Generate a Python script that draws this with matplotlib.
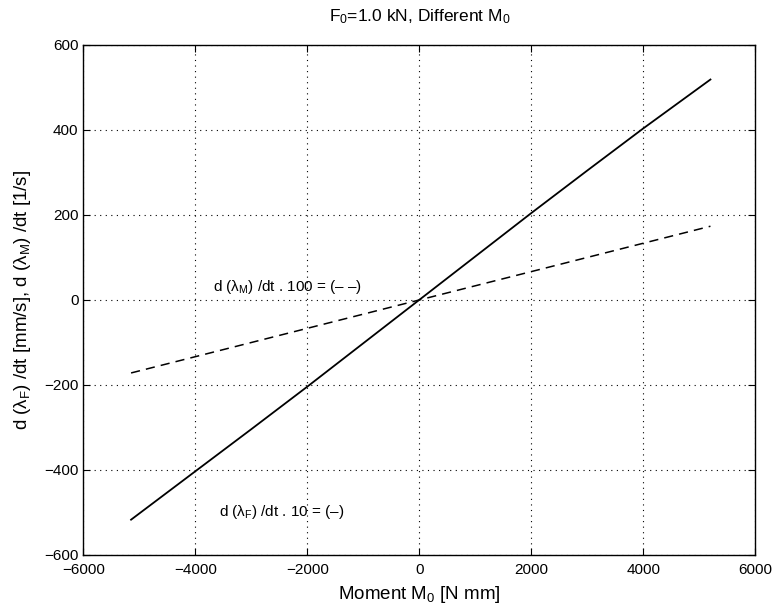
import matplotlib
matplotlib.use("Agg")
import matplotlib.pyplot as plt

plt.rcParams['font.family'] = ['Liberation Sans', 'DejaVu Sans']
plt.rcParams['mathtext.fontset'] = 'custom'
plt.rcParams['mathtext.rm'] = 'Liberation Sans'
plt.rcParams['mathtext.it'] = 'Liberation Sans'

# Moment M0 [Nmm]
moment_f = [-5150, -4000, -3000, -2000, -1000, 0, 1000, 2000, 3000, 4000, 5200]
# d(lambda_F)/dt * 10
rate_f = [-517, -403, -304, -204, -102, 0, 102, 204, 304, 403, 518]

moment_m = [-5150, 5200]
# d(lambda_M)/dt * 100
rate_m = [-172, 173]

x_ticks = [-6000, -4000, -2000, 0, 2000, 4000, 6000]
y_ticks = [-600, -400, -200, 0, 200, 400, 600]

fig = plt.figure(figsize=(7.73, 6.09), dpi=100)
ax = fig.add_axes([0.108, 0.0887, 0.869, 0.838])

ax.plot(moment_f, rate_f, color='black', lw=1.3, ls='-')
ax.plot(moment_m, rate_m, color='black', lw=1.1, ls=(0, (6, 4)))

ax.set_xlim(-6000, 6000)
ax.set_ylim(-600, 600)
ax.set_xticks(x_ticks)
ax.set_yticks(y_ticks)
ax.grid(True, color='black', ls=(0, (1, 4)), lw=0.8)
ax.tick_params(direction='in', top=True, right=True, labelsize=11, length=5)
ax.tick_params(axis='x', pad=6)
for s in ax.spines.values():
    s.set_linewidth(1.0)

ax.text(-3690, 30, r'd ($\lambda_{\rm M}$) /dt . 100 = (– –)', fontsize=11, va='center', ha='left')
ax.text(-3585, -499, r'd ($\lambda_{\rm F}$) /dt . 10 = (–)', fontsize=11, va='center', ha='left')

ax.set_title(r'F$_0$=1.0 kN, Different M$_0$', fontsize=12.5, pad=17)
ax.set_xlabel(r'Moment M$_0$ [N mm]', fontsize=13.5, labelpad=5)
ax.set_ylabel(r'd ($\lambda_{\rm F}$) /dt [mm/s], d ($\lambda_{\rm M}$) /dt [1/s]', fontsize=13.5, labelpad=8)

fig.savefig('out.png', dpi=100)
